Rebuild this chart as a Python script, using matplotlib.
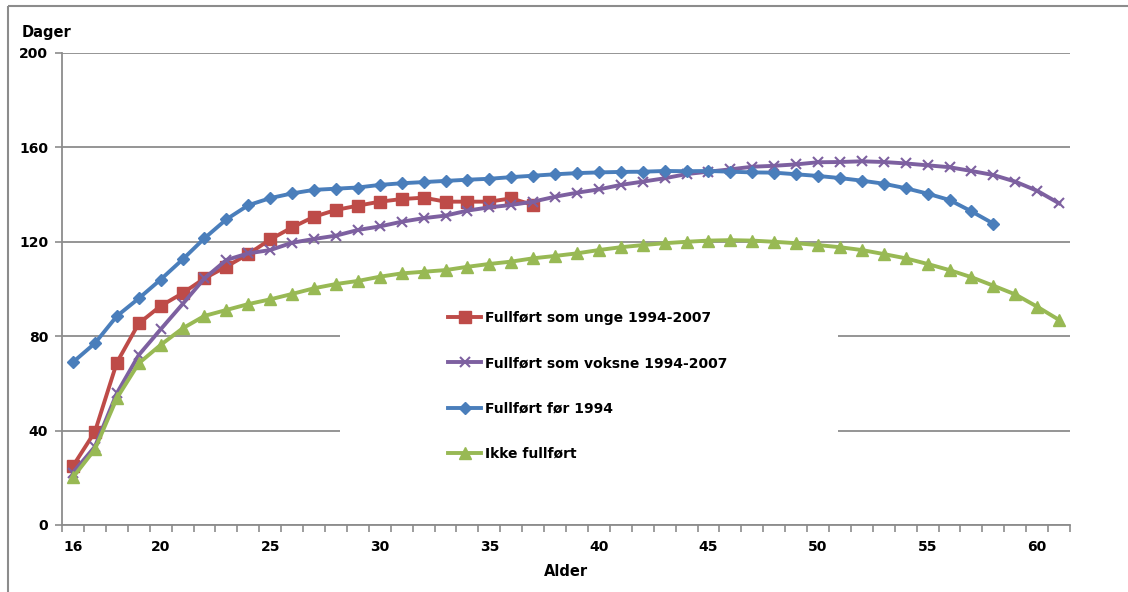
import numpy as np
import matplotlib
matplotlib.use('Agg')
import matplotlib.pyplot as plt
from matplotlib.patches import Rectangle
from matplotlib.lines import Line2D

plt.rcParams['font.family'] = ['DejaVu Sans']

# Data (dager per alder)
alder_unge = list(range(16, 38))
unge = [25.0, 39.5, 68.8, 85.4, 92.8, 98.2, 104.5, 109.5, 114.8, 121.0, 126.1,
        130.6, 133.5, 135.3, 137.0, 138.1, 138.7, 137.0, 137.0, 137.0, 138.4, 135.6]

alder_voksne = list(range(16, 62))
voksne = [22.2, 33.2, 55.8, 72.0, 82.9, 93.6, 104.5, 112.3, 115.1, 116.5, 119.6,
          121.2, 122.6, 125.0, 126.5, 128.5, 130.0, 131.1, 133.2, 134.6, 135.6,
          137.0, 139.1, 140.8, 142.2, 144.1, 145.5, 146.9, 148.7, 149.7, 150.7,
          151.8, 152.2, 152.8, 153.7, 153.8, 154.1, 153.8, 153.2, 152.4, 151.6,
          150.0, 148.3, 145.5, 141.6, 136.3]

alder_for = list(range(16, 59))
for1994 = [69.0, 77.0, 88.5, 96.0, 104.0, 112.5, 121.5, 129.5, 135.5, 138.5, 140.5,
           142.0, 142.5, 143.0, 144.1, 144.8, 145.3, 145.8, 146.3, 146.7, 147.4,
           148.0, 148.6, 149.1, 149.4, 149.6, 149.7, 150.0, 149.9, 150.0, 149.7,
           149.4, 149.3, 148.6, 147.9, 147.0, 145.9, 144.6, 142.7, 140.4, 137.7,
           132.9, 127.7]

alder_ikke = list(range(16, 62))
ikke = [20.2, 32.1, 53.7, 68.5, 76.3, 83.3, 88.6, 91.1, 93.6, 95.6, 97.9, 100.3,
        102.1, 103.4, 105.2, 106.6, 107.3, 108.0, 109.4, 110.6, 111.6, 113.0,
        114.0, 115.1, 116.5, 117.7, 118.6, 119.4, 120.0, 120.5, 120.7, 120.5,
        120.0, 119.4, 118.6, 117.7, 116.5, 114.8, 113.0, 110.6, 108.0, 105.0,
        101.4, 97.7, 92.5, 86.9]

x_ticks = [16, 20, 25, 30, 35, 40, 45, 50, 55, 60]
y_ticks = [0, 40, 80, 120, 160, 200]

fig = plt.figure(figsize=(11.28, 5.92), dpi=100)
ax = fig.add_axes([0.055, 0.1132, 0.8936, 0.7973])

ax.plot(alder_unge, unge, color='#BE4B48', lw=2.8, marker='s', ms=8,
        label='Fullført som unge 1994-2007', zorder=3)
ax.plot(alder_voksne, voksne, color='#7D60A0', lw=2.8, marker='x', ms=7, mew=1.5,
        label='Fullført som voksne 1994-2007', zorder=3)
ax.plot(alder_for, for1994, color='#4A7EBB', lw=2.8, marker='D', ms=6,
        label='Fullført før 1994', zorder=3)
ax.plot(alder_ikke, ikke, color='#98B954', lw=2.8, marker='^', ms=8,
        label='Ikke fullført', zorder=3)

ax.set_xlim(15.5, 61.5)
ax.set_ylim(0, 200)
ax.set_axisbelow(True)
ax.grid(axis='y', color='#8C8C8C', lw=1.3)

# white legend area hides the gridlines behind it
ax.add_patch(Rectangle((0.2758, 0.095), 0.494, 0.403, transform=ax.transAxes,
                       facecolor='white', edgecolor='none', zorder=1))

ax.set_xticks(x_ticks)
ax.set_xticks(np.arange(15.5, 62, 1), minor=True)
ax.tick_params(axis='x', which='major', length=0, pad=11)
ax.tick_params(axis='x', which='minor', length=5, color='#8C8C8C', width=1.2)
ax.set_yticks(y_ticks)
ax.tick_params(axis='y', length=5, color='#8C8C8C', width=1.2, pad=5)
for lab in ax.get_xticklabels() + ax.get_yticklabels():
    lab.set_fontweight('bold')
    lab.set_fontsize(10)

for s in ['top', 'right']:
    ax.spines[s].set_visible(False)
for s in ['left', 'bottom']:
    ax.spines[s].set_color('#8C8C8C')
    ax.spines[s].set_linewidth(1.3)

ax.set_xlabel('Alder', fontsize=10.5, fontweight='bold', labelpad=7)
fig.text(0.0195, 0.945, 'Dager', fontsize=10.5, fontweight='bold', va='center')

leg = ax.legend(loc='upper left', bbox_to_anchor=(0.376, 0.468), frameon=False,
                borderpad=0, handlelength=2.4, handletextpad=0.3, labelspacing=2.25,
                prop={'weight': 'bold', 'size': 10})
leg.set_zorder(4)

# outer border of the figure (left and top)
fig.add_artist(Line2D([0.007, 0.007], [0.99, 0.0], color='#8C8C8C', lw=1.5,
                      solid_capstyle='butt'))
fig.add_artist(Line2D([0.007, 1.0], [0.99, 0.99], color='#8C8C8C', lw=1.5,
                      solid_capstyle='butt'))

fig.savefig('out.png', dpi=100)
